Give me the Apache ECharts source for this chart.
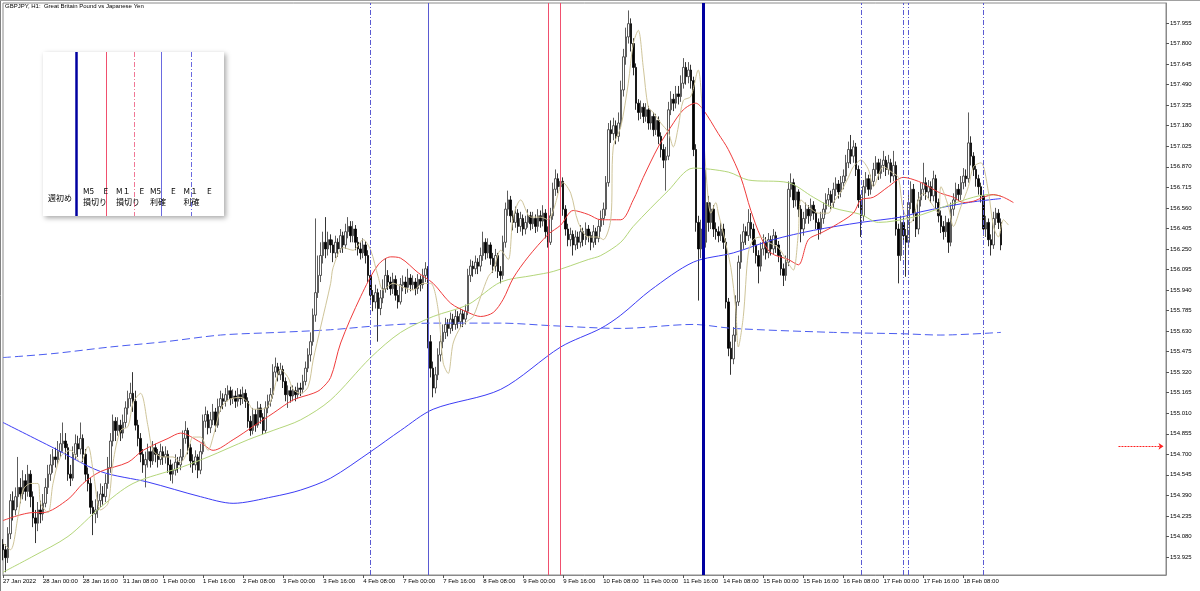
<!DOCTYPE html>
<html><head><meta charset="utf-8">
<script src="https://cdn.jsdelivr.net/npm/echarts@6/dist/echarts.min.js"></script>
<style>html,body{margin:0;padding:0;background:#fff}#c{width:1200px;height:591px}</style>
</head><body><div id="c"></div>
<script>
const tickLabels = ['27 Jan 2022','28 Jan 00:00','28 Jan 16:00','31 Jan 08:00','1 Feb 00:00','1 Feb 16:00','2 Feb 08:00','3 Feb 00:00','3 Feb 16:00','4 Feb 08:00','7 Feb 00:00','7 Feb 16:00','8 Feb 08:00','9 Feb 00:00','9 Feb 16:00','10 Feb 08:00','11 Feb 00:00','11 Feb 16:00','14 Feb 08:00','15 Feb 00:00','15 Feb 16:00','16 Feb 08:00','17 Feb 00:00','17 Feb 16:00','18 Feb 08:00'];
const yTicks = [153.925,154.080,154.235,154.390,154.545,154.700,154.855,155.010,155.165,155.320,155.475,155.630,155.785,155.940,156.095,156.250,156.405,156.560,156.715,156.870,157.025,157.180,157.335,157.490,157.645,157.800,157.955];

const firstOpen = 154.02;
const closes = [
153.98,153.92,154.10,154.35,154.28,154.38,154.45,154.40,154.50,154.42,
154.55,154.38,154.22,154.18,154.28,154.25,154.33,154.45,154.55,154.62,
154.68,154.66,154.72,154.78,154.80,154.75,154.55,154.52,154.70,154.78,
154.74,154.82,154.70,154.55,154.48,154.30,154.25,154.28,154.35,154.40,
154.38,154.48,154.60,154.80,154.95,154.88,154.92,154.86,154.94,155.05,
155.12,155.16,155.10,154.92,154.82,154.70,154.62,154.66,154.72,154.65,
154.75,154.70,154.66,154.72,154.68,154.70,154.62,154.55,154.58,154.64,
154.62,154.68,154.82,154.88,154.75,154.65,154.62,154.68,154.58,154.72,
154.95,155.00,154.90,154.96,155.02,154.92,155.06,155.12,155.10,155.15,
155.18,155.12,155.14,155.10,155.15,155.12,155.16,155.10,154.95,154.88,
155.00,154.92,155.05,154.98,154.88,155.05,155.10,155.15,155.32,155.36,
155.30,155.34,155.25,155.15,155.18,155.14,155.18,155.15,155.20,155.19,
155.25,155.35,155.45,155.55,155.75,155.92,156.05,156.20,156.30,156.25,
156.32,156.28,156.22,156.30,156.25,156.35,156.28,156.38,156.42,156.35,
156.40,156.30,156.25,156.22,156.28,156.20,156.05,155.90,155.85,155.92,
155.80,155.88,155.95,156.05,156.00,155.95,156.02,155.90,155.85,155.98,
156.00,155.96,156.03,155.98,156.00,155.95,156.02,155.98,156.05,156.10,
155.55,155.35,155.20,155.30,155.45,155.55,155.62,155.68,155.65,155.72,
155.68,155.74,155.70,155.76,155.72,155.78,156.05,156.12,156.10,156.15,
156.12,156.20,156.30,156.22,156.28,156.18,156.12,156.20,156.08,156.05,
156.30,156.55,156.62,156.50,156.45,156.52,156.42,156.48,156.40,156.45,
156.50,156.44,156.48,156.42,156.50,156.46,156.52,156.38,156.30,156.50,
156.70,156.78,156.72,156.76,156.55,156.40,156.32,156.36,156.28,156.34,
156.30,156.38,156.32,156.40,156.35,156.30,156.38,156.33,156.42,156.48,
156.55,156.75,157.15,157.12,157.18,157.10,157.20,157.45,157.70,157.85,
157.95,157.80,157.62,157.35,157.28,157.32,157.25,157.30,157.20,157.25,
157.15,157.22,157.10,157.00,156.92,156.95,157.30,157.38,157.35,157.42,
157.40,157.50,157.62,157.55,157.60,157.52,157.00,156.45,156.25,156.40,
156.30,156.60,156.45,156.55,156.40,156.38,156.35,156.40,156.30,155.85,
155.50,155.42,155.60,155.85,156.15,156.30,156.38,156.35,156.45,156.40,
156.28,156.20,156.12,156.25,156.30,156.22,156.32,156.25,156.35,156.28,
156.20,156.10,156.05,156.15,156.70,156.75,156.62,156.68,156.55,156.40,
156.48,156.55,156.50,156.58,156.52,156.45,156.40,156.48,156.55,156.62,
156.66,156.60,156.70,156.74,156.68,156.75,156.80,156.90,157.00,156.95,
157.02,156.85,156.62,156.50,156.72,156.78,156.70,156.76,156.85,156.90,
156.82,156.88,156.92,156.85,156.90,156.80,156.88,156.40,156.20,156.45,
156.35,156.30,156.60,156.70,156.52,156.40,156.62,156.70,156.75,156.68,
156.72,156.65,156.78,156.60,156.50,156.42,156.38,156.45,156.30,156.55,
156.62,156.70,156.66,156.75,156.80,156.78,157.05,156.95,156.85,156.78,
156.72,156.65,156.40,156.45,156.32,156.28,156.48,156.52,156.45,156.28];
const highs = [
154.06,154.02,154.15,154.40,154.42,154.45,154.68,154.52,154.58,154.55,
154.62,154.58,154.42,154.28,154.34,154.35,154.40,154.52,154.62,154.70,
154.74,154.75,154.80,154.86,154.94,154.86,154.78,154.62,154.76,154.85,
154.84,154.94,154.85,154.74,154.60,154.52,154.35,154.36,154.42,154.48,
154.46,154.55,154.68,154.86,155.00,154.98,154.98,154.96,155.00,155.10,
155.18,155.24,155.32,155.18,154.96,154.86,154.74,154.72,154.78,154.76,
154.80,154.78,154.74,154.78,154.76,154.76,154.73,154.66,154.63,154.70,
154.68,154.74,154.88,154.95,154.90,154.78,154.70,154.73,154.70,154.78,
155.00,155.06,155.03,155.02,155.08,155.05,155.12,155.18,155.16,155.20,
155.22,155.21,155.19,155.18,155.20,155.19,155.21,155.19,155.13,154.99,
155.05,155.04,155.10,155.08,155.01,155.10,155.15,155.20,155.38,155.43,
155.39,155.39,155.37,155.28,155.22,155.21,155.22,155.21,155.24,155.24,
155.30,155.40,155.50,155.62,155.80,156.48,156.20,156.30,156.38,156.49,
156.38,156.36,156.32,156.35,156.33,156.40,156.38,156.44,156.49,156.46,
156.46,156.43,156.34,156.30,156.33,156.31,156.24,156.08,155.94,155.98,
155.95,155.94,156.02,156.18,156.09,156.04,156.07,156.05,155.94,156.03,
156.05,156.04,156.10,156.06,156.05,156.03,156.06,156.05,156.10,156.15,
156.12,155.60,155.40,155.36,155.50,155.60,155.68,155.73,155.72,155.77,
155.76,155.79,155.78,155.80,155.79,155.83,156.10,156.17,156.16,156.20,
156.18,156.26,156.38,156.33,156.33,156.30,156.22,156.25,156.22,156.12,
156.35,156.60,156.69,156.65,156.54,156.57,156.55,156.53,156.51,156.50,
156.55,156.53,156.53,156.51,156.55,156.54,156.58,156.55,156.42,156.56,
156.75,156.85,156.82,156.82,156.79,156.58,156.44,156.41,156.39,156.39,
156.38,156.43,156.41,156.45,156.43,156.38,156.43,156.41,156.47,156.54,
156.60,156.80,157.20,157.22,157.24,157.22,157.28,157.52,157.76,157.92,
158.05,157.99,157.84,157.65,157.38,157.37,157.35,157.35,157.33,157.30,
157.28,157.27,157.25,157.13,157.04,157.02,157.36,157.44,157.42,157.48,
157.48,157.56,157.69,157.66,157.66,157.64,157.55,157.04,156.50,156.47,
156.46,156.85,156.65,156.60,156.58,156.45,156.42,156.45,156.44,156.33,
155.88,155.55,155.66,155.90,156.20,156.36,156.44,156.42,156.55,156.52,
156.44,156.32,156.24,156.30,156.36,156.34,156.37,156.35,156.40,156.38,
156.31,156.23,156.14,156.20,156.76,156.82,156.78,156.73,156.70,156.58,
156.53,156.60,156.58,156.63,156.61,156.55,156.48,156.53,156.60,156.67,
156.71,156.69,156.75,156.79,156.77,156.80,156.85,156.96,157.06,157.11,
157.07,157.05,156.88,156.66,156.77,156.83,156.81,156.81,156.90,156.95,
156.93,156.93,156.99,156.95,156.96,156.93,156.99,156.91,156.44,156.50,
156.50,156.40,156.66,156.76,156.74,156.55,156.68,156.75,156.90,156.79,
156.77,156.76,156.84,156.81,156.63,156.54,156.46,156.50,156.48,156.60,
156.67,156.75,156.74,156.80,156.86,156.85,157.28,157.10,156.98,156.88,
156.81,156.75,156.68,156.50,156.48,156.36,156.53,156.56,156.55,156.48];
const lows = [
153.90,153.81,153.88,154.06,154.20,154.24,154.30,154.33,154.36,154.35,
154.38,154.30,154.15,154.03,154.12,154.18,154.20,154.30,154.40,154.50,
154.56,154.60,154.62,154.68,154.72,154.66,154.50,154.46,154.50,154.66,
154.68,154.70,154.64,154.50,154.42,154.25,154.09,154.18,154.22,154.30,
154.32,154.34,154.44,154.56,154.76,154.80,154.84,154.80,154.82,154.90,
155.00,155.06,155.02,154.88,154.76,154.64,154.56,154.45,154.60,154.60,
154.62,154.64,154.60,154.62,154.62,154.63,154.56,154.50,154.48,154.54,
154.56,154.58,154.65,154.78,154.70,154.60,154.56,154.58,154.52,154.55,
154.70,154.90,154.85,154.86,154.92,154.87,154.90,155.02,155.04,155.06,
155.10,155.07,155.08,155.05,155.06,155.07,155.08,155.05,154.90,154.84,
154.85,154.87,154.90,154.93,154.85,154.86,155.01,155.06,155.12,155.28,
155.25,155.26,155.20,155.10,155.05,155.09,155.10,155.10,155.12,155.14,
155.16,155.22,155.32,155.40,155.52,155.70,155.88,156.00,156.14,156.18,
156.20,156.22,156.15,156.18,156.19,156.22,156.22,156.25,156.33,156.30,
156.30,156.24,156.20,156.17,156.18,156.14,156.00,155.84,155.78,155.80,
155.55,155.75,155.84,155.92,155.94,155.90,155.91,155.86,155.80,155.83,
155.93,155.91,155.92,155.93,155.94,155.90,155.91,155.93,155.95,156.00,
155.50,155.28,155.13,155.16,155.26,155.40,155.50,155.57,155.59,155.61,
155.63,155.64,155.65,155.66,155.66,155.68,155.75,156.00,156.04,156.06,
156.06,156.08,156.16,156.17,156.18,156.13,156.07,156.08,156.03,155.99,
156.02,156.26,156.50,156.45,156.39,156.41,156.37,156.38,156.35,156.36,
156.41,156.39,156.40,156.37,156.38,156.41,156.42,156.33,156.26,156.28,
156.47,156.65,156.67,156.68,156.50,156.35,156.27,156.27,156.20,156.24,
156.25,156.26,156.27,156.28,156.30,156.24,156.26,156.28,156.30,156.38,
156.43,156.50,156.72,157.05,157.07,157.04,157.06,157.16,157.40,157.64,
157.80,157.74,157.56,157.30,157.22,157.23,157.20,157.21,157.15,157.15,
157.10,157.11,157.04,156.94,156.86,156.69,156.92,157.26,157.29,157.31,
157.34,157.36,157.46,157.49,157.50,157.46,156.95,156.38,155.86,156.18,
156.22,156.26,156.38,156.40,156.34,156.32,156.30,156.31,156.25,155.80,
155.44,155.30,155.38,155.55,155.82,156.10,156.25,156.28,156.31,156.33,
156.22,156.14,155.99,156.08,156.20,156.17,156.18,156.20,156.21,156.22,
156.15,156.05,155.97,156.01,156.12,156.64,156.56,156.57,156.49,156.30,
156.35,156.44,156.44,156.46,156.47,156.40,156.32,156.36,156.44,156.51,
156.57,156.55,156.56,156.65,156.63,156.64,156.70,156.76,156.86,156.89,
156.90,156.80,156.56,156.34,156.46,156.67,156.65,156.66,156.72,156.80,
156.77,156.78,156.83,156.80,156.81,156.75,156.76,156.35,155.99,156.16,
156.28,156.04,156.26,156.55,156.46,156.34,156.36,156.57,156.65,156.62,
156.63,156.60,156.61,156.55,156.45,156.37,156.32,156.34,156.22,156.27,
156.50,156.58,156.61,156.62,156.70,156.72,156.75,156.88,156.80,156.72,
156.66,156.60,156.35,156.34,156.27,156.20,156.25,156.43,156.40,156.24];

// moving averages: [bar index, price]
const maFast = [[0,154.03],[3,153.98],[6,154.23],[8,154.43],[11,154.48],[14,154.48],[15,154.33],[18,154.26],[20,154.48],[23,154.68],[27,154.73],[31,154.64],[34,154.76],[36,154.58],[39,154.28],[42,154.33],[44,154.64],[47,154.88],[50,154.91],[52,155.09],[55,155.16],[58,154.91],[60,154.73],[64,154.68],[68,154.68],[71,154.64],[74,154.73],[76,154.83],[79,154.83],[82,154.73],[84,154.83],[87,155.04],[90,155.11],[95,155.13],[98,155.09],[100,155.04],[103,155.04],[106,155.06],[108,155.16],[111,155.34],[114,155.28],[116,155.19],[119,155.16],[122,155.21],[124,155.41],[127,155.66],[131,155.99],[132,156.11],[136,156.26],[140,156.24],[144,156.32],[147,156.24],[150,156.04],[152,155.94],[156,155.99],[160,155.96],[164,155.94],[168,155.99],[171,155.99],[174,155.79],[176,155.39],[178,155.31],[180,155.54],[183,155.66],[186,155.71],[188,155.74],[191,155.89],[194,156.04],[196,156.09],[199,156.24],[202,156.17],[204,156.49],[207,156.62],[211,156.49],[215,156.49],[218,156.47],[220,156.54],[224,156.75],[227,156.67],[230,156.45],[234,156.34],[238,156.34],[240,156.32],[243,156.47],[244,157.02],[247,157.17],[250,157.50],[252,157.80],[254,157.90],[256,157.62],[258,157.32],[260,157.28],[263,157.20],[266,157.13],[268,157.02],[270,157.17],[272,157.37],[275,157.40],[278,157.60],[279,157.47],[280,157.13],[282,156.62],[283,156.52],[285,156.60],[286,156.52],[288,156.37],[291,156.11],[293,155.79],[294,155.51],[296,155.74],[298,156.22],[300,156.32],[303,156.34],[306,156.30],[310,156.26],[314,156.14],[316,156.09],[318,156.37],[319,156.62],[322,156.57],[326,156.52],[330,156.52],[332,156.60],[335,156.68],[338,156.79],[340,156.87],[343,156.92],[346,156.85],[348,156.72],[352,156.87],[356,156.82],[358,156.79],[360,156.54],[363,156.45],[366,156.62],[368,156.67],[371,156.60],[374,156.52],[375,156.72],[378,156.57],[380,156.42],[383,156.57],[386,156.72],[388,156.87],[391,156.90],[394,156.68],[396,156.42],[398,156.34],[400,156.47],[402,156.43]];
const maRed = [[0,154.20],[12,154.26],[16,154.26],[26,154.36],[32,154.48],[39,154.57],[50,154.64],[56,154.73],[66,154.82],[71,154.86],[79,154.79],[84,154.73],[92,154.81],[100,154.91],[108,155.01],[116,155.11],[124,155.16],[127,155.19],[131,155.28],[135,155.54],[143,155.89],[150,156.13],[155,156.19],[159,156.18],[166,156.07],[172,155.99],[179,155.84],[186,155.77],[191,155.74],[196,155.77],[200,155.87],[204,156.03],[210,156.19],[218,156.36],[223,156.43],[228,156.54],[234,156.51],[239,156.47],[247,156.47],[252,156.62],[256,156.79],[262,157.02],[267,157.17],[272,157.30],[277,157.35],[280,157.30],[286,157.12],[290,157.00],[295,156.79],[299,156.54],[303,156.34],[307,156.22],[314,156.17],[318,156.13],[322,156.32],[327,156.37],[332,156.42],[340,156.52],[343,156.62],[348,156.64],[354,156.72],[360,156.79],[366,156.76],[370,156.72],[375,156.67],[380,156.64],[384,156.60],[388,156.61],[392,156.64],[396,156.66],[400,156.64],[404,156.60]];
const maGreen = [[0,153.81],[12,153.93],[26,154.08],[39,154.30],[52,154.48],[71,154.60],[82,154.68],[98,154.81],[108,154.88],[119,154.96],[131,155.11],[147,155.43],[159,155.62],[172,155.74],[186,155.83],[199,156.00],[212,156.05],[220,156.08],[234,156.17],[239,156.20],[247,156.30],[252,156.42],[266,156.69],[276,156.86],[290,156.83],[298,156.77],[314,156.75],[324,156.64],[332,156.56],[343,156.51],[350,156.45],[364,156.49],[378,156.58],[388,156.64],[394,156.66],[399,156.65]];
const maBlue = [[0,154.94],[20,154.75],[39,154.57],[58,154.49],[79,154.38],[92,154.33],[108,154.38],[119,154.43],[131,154.52],[147,154.72],[159,154.88],[172,155.04],[199,155.19],[223,155.51],[239,155.65],[247,155.75],[259,155.94],[276,156.15],[292,156.22],[308,156.32],[324,156.39],[343,156.45],[359,156.49],[367,156.53],[386,156.60],[399,156.63]];
const maBlueDashed = [[0,155.43],[20,155.46],[43,155.51],[65,155.55],[87,155.60],[110,155.62],[131,155.64],[150,155.67],[172,155.69],[199,155.69],[220,155.67],[247,155.65],[276,155.68],[292,155.65],[332,155.62],[359,155.61],[375,155.60],[399,155.62]];

// vertical object lines (bar index) and the pending price line
const vLines = [
  {bar:147, kind:'dashdot'}, {bar:170, kind:'blue'}, {bar:218, kind:'pink'}, {bar:223, kind:'pink'},
  {bar:280, kind:'week'}, {bar:343, kind:'dashdot'}, {bar:360, kind:'dashdot'}, {bar:362, kind:'dashdot'}, {bar:392, kind:'dashdot'}
];
const priceLine = {from:446, to:464, value:154.76};

const N = 466;
const categories = Array.from({length:N}, (_, i) => String(i));
const candles = closes.map((c, i) => [i === 0 ? firstOpen : closes[i-1], c, lows[i], highs[i]]);

function vStyle(kind) {
  if (kind === 'dashdot') return {color:'#5a5ad2', width:1, type:[5,2,1,2], opacity:1};
  if (kind === 'blue') return {color:'#5a5ad2', width:1, type:'solid', opacity:1};
  if (kind === 'pink') return {color:'#f0506e', width:1, type:'solid', opacity:1};
  return {color:'#0000a0', width:3, type:'solid', opacity:1};
}
const vSeries = vLines.map(v => ({
  type:'line', data:[], silent:true, z:5,
  markLine:{silent:true, symbol:['none','none'], label:{show:false}, animation:false,
    lineStyle:vStyle(v.kind), emphasis:{disabled:true}, data:[{xAxis:v.bar}]}
}));

const FONT = 'Liberation Sans, Arial, sans-serif';
const JP = 'Noto Sans CJK JP, sans-serif';

function lineSeries(data, color, type, z) {
  return {type:'line', data, showSymbol:false, symbol:'none', smooth:0.3, z: z || 3,
    lineStyle:{color, width:1, type: type || 'solid'}, silent:true};
}

const chart = echarts.init(document.getElementById('c'), null, {renderer:'canvas'});
const legendX = 43, legendY = 52, legendW = 181, legendH = 164;
const gfx = [
  {type:'line', shape:{x1:0.5,y1:0,x2:0.5,y2:591}, style:{stroke:'#808080', lineWidth:1}, z:100},
  {type:'line', shape:{x1:0,y1:0.5,x2:1200,y2:0.5}, style:{stroke:'#a0a0a0', lineWidth:1}, z:100},
  {type:'text', left:5, top:3, style:{text:'GBPJPY, H1:  Great Britain Pound vs Japanese Yen', fill:'#000', font:'6px ' + FONT}, z:100},
  {type:'rect', shape:{x:legendX, y:legendY, width:legendW, height:legendH}, style:{fill:'#fff', shadowBlur:5, shadowOffsetX:2, shadowOffsetY:2, shadowColor:'rgba(0,0,0,0.35)'}, z:100},
  {type:'line', shape:{x1:76.5,y1:legendY,x2:76.5,y2:legendY+legendH}, style:{stroke:'#0000a0', lineWidth:2.5}, z:101},
  {type:'line', shape:{x1:106.5,y1:legendY,x2:106.5,y2:legendY+legendH}, style:{stroke:'#f0506e', lineWidth:1}, z:101},
  {type:'line', shape:{x1:134.5,y1:legendY,x2:134.5,y2:legendY+legendH}, style:{stroke:'#f07896', lineWidth:1, lineDash:[5,2,1,2]}, z:101},
  {type:'line', shape:{x1:161.5,y1:legendY,x2:161.5,y2:legendY+legendH}, style:{stroke:'#6a6ae0', lineWidth:1}, z:101},
  {type:'line', shape:{x1:191.5,y1:legendY,x2:191.5,y2:legendY+legendH}, style:{stroke:'#6a6ae0', lineWidth:1, lineDash:[5,2,1,2]}, z:101}
];
const legendTexts = [
  ['週初め',48,198],['M5',83,190.5],['E',103.5,190.5],['損切り',83,201.5],
  ['M１',116,190.5],['E',139.5,190.5],['損切り',116,201.5],
  ['M5',150,190.5],['E',171,190.5],['利確',150,201.5],
  ['M１',183.5,190.5],['E',207,190.5],['利確',183.5,201.5]
];
legendTexts.forEach(t => gfx.push({type:'text', x:t[1], y:t[2], style:{text:t[0], fill:'#000', font:'8px ' + JP, textVerticalAlign:'middle'}, z:102}));

chart.setOption({
  animation:false,
  backgroundColor:'#fff',
  textStyle:{fontFamily:FONT},
  grid:{left:3, right:34, top:3, bottom:16, show:true, borderColor:'#8a8a8a', borderWidth:1, backgroundColor:'#fff'},
  xAxis:{type:'category', data:categories, boundaryGap:false,
    axisLine:{lineStyle:{color:'#8a8a8a'}},
    axisTick:{show:true, length:3, interval:(i) => i % 16 === 0 && i <= 384, lineStyle:{color:'#555'}},
    axisLabel:{interval:(i) => i % 16 === 0 && i <= 384, formatter:(v, i) => tickLabels[i/16] || '', align:'left', fontSize:6, color:'#000', margin:3, fontFamily:FONT},
    splitLine:{show:false}},
  yAxis:{type:'value', position:'right', min:153.789, max:158.106, scale:true,
    axisLine:{show:true, lineStyle:{color:'#8a8a8a'}},
    axisTick:{show:true, length:3, customValues:yTicks, lineStyle:{color:'#555'}},
    axisLabel:{customValues:yTicks, formatter:(v) => v.toFixed(3), fontSize:6, color:'#000', margin:4, fontFamily:FONT},
    splitLine:{show:false}},
  graphic:gfx,
  series:[
    {type:'candlestick', data:candles, barWidth:2, z:2, silent:true,
      itemStyle:{color:'#ffffff', color0:'#000000', borderColor:'#333', borderColor0:'#000', borderWidth:0.8},
      markLine:{silent:true, symbol:['none','arrow'], symbolSize:5, label:{show:false}, animation:false,
        lineStyle:{color:'#ff2020', width:1, type:[2,1]},
        data:[[{coord:[priceLine.from, priceLine.value]}, {coord:[priceLine.to, priceLine.value]}]]}},
    lineSeries(maBlueDashed, '#4a5cf0', [8,4]),
    lineSeries(maBlue, '#3c3cf5'),
    lineSeries(maGreen, '#b4d67a'),
    lineSeries(maRed, '#f03c3c'),
    lineSeries(maFast, '#cfc59a')
  ].concat(vSeries)
});
</script></body></html>
